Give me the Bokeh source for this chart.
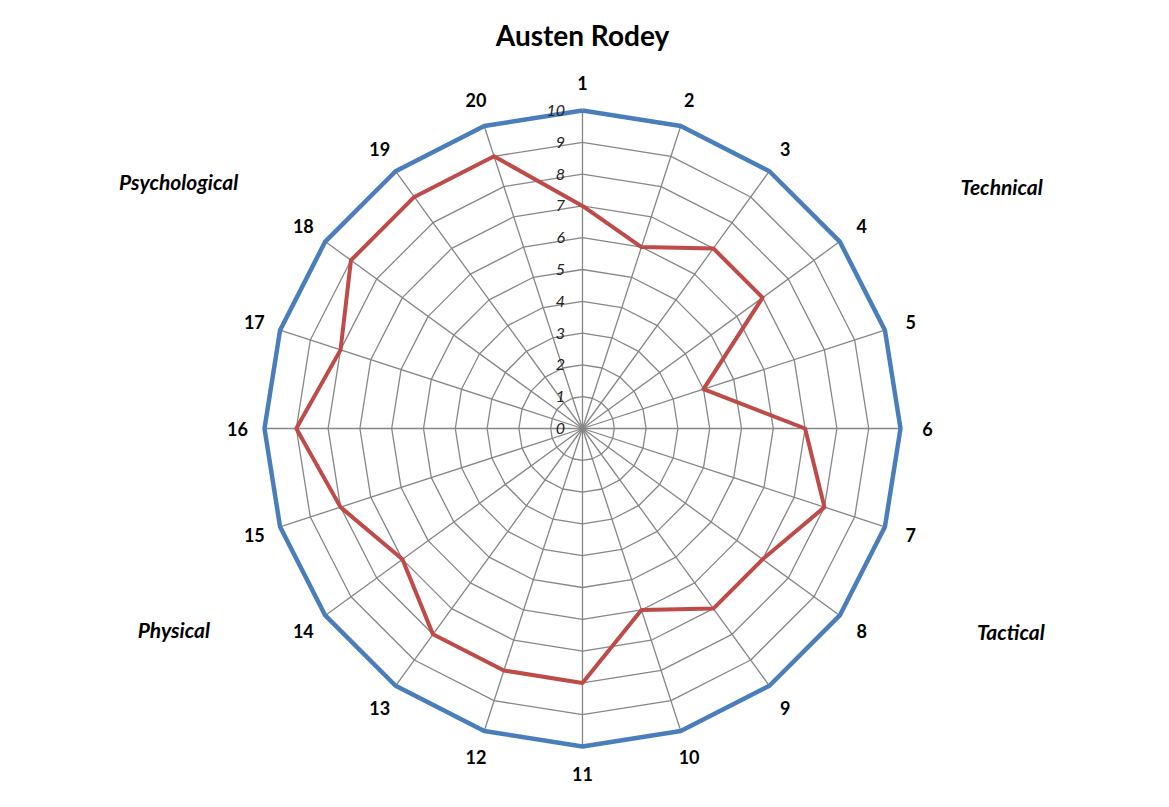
import numpy as np
from bokeh.plotting import figure
from bokeh.models import Range1d
from bokeh.core.properties import value
from bokeh.embed import file_html
from bokeh.resources import INLINE

title = "Austen Rodey"
categories = [str(i) for i in range(1, 21)]
scores = [7, 6, 7, 7, 4, 7, 8, 7, 7, 6, 8, 8, 8, 7, 8, 9, 8, 9, 9, 9]
maximum = [10] * 20
ring_levels = list(range(0, 11))
groups = ["Technical", "Tactical", "Physical", "Psychological"]
group_pos = [(13.18, 7.62), (13.47, -6.39), (-12.85, -6.32), (-12.7, 7.78)]

W, H = 1153, 791
cx, cy = 582, 428
px_per_unit = 31.8

p = figure(width=W, height=H, output_backend="svg", toolbar_location=None,
           x_range=Range1d(-cx / px_per_unit, (W - cx) / px_per_unit),
           y_range=Range1d(-(H - cy) / px_per_unit, cy / px_per_unit),
           min_border=0)
p.axis.visible = False
p.grid.visible = False
p.outline_line_color = None
p.background_fill_color = "white"
p.border_fill_color = "white"

n = len(categories)
ang = np.pi / 2 - np.arange(n) * 2 * np.pi / n

# rings
for lv in ring_levels[1:]:
    xs = list(lv * np.cos(ang)) + [lv * np.cos(ang[0])]
    ys = list(lv * np.sin(ang)) + [lv * np.sin(ang[0])]
    p.line(xs, ys, line_color="#868686", line_width=1.3)
# spokes
p.segment(x0=[0] * n, y0=[0] * n, x1=list(10 * np.cos(ang)), y1=list(10 * np.sin(ang)),
          line_color="#868686", line_width=1.3)

def closed(vals):
    v = np.array(vals, dtype=float)
    xs = list(v * np.cos(ang)) + [v[0] * np.cos(ang[0])]
    ys = list(v * np.sin(ang)) + [v[0] * np.sin(ang[0])]
    return xs, ys

bx, by = closed(maximum)
p.line(bx, by, line_color="#4A7EBB", line_width=4.5, line_join="round")
rx, ry = closed(scores)
p.line(rx, ry, line_color="#BE4B48", line_width=4, line_join="round")

# ring value labels
p.text(x=[-0.55] * len(ring_levels), y=ring_levels, text=[str(v) for v in ring_levels],
       text_align="right", text_baseline="middle", text_font=value("Lato"),
       text_font_style="italic", text_font_size="16px", text_color="#222222")

# category labels
lr = 10.85
p.text(x=list(lr * np.cos(ang)), y=list(lr * np.sin(ang)), text=categories,
       text_align="center", text_baseline="middle", text_font=value("Lato"),
       text_font_style="bold", text_font_size="18px", text_color="black")

# group labels
p.text(x=[g[0] for g in group_pos], y=[g[1] for g in group_pos], text=groups,
       text_align="center", text_baseline="middle", text_font=value("Lato"),
       text_font_style="bold italic", text_font_size="21px", text_color="black")

# title
p.text(x=[0], y=[(cy - 34) / px_per_unit], text=[title], text_align="center",
       text_baseline="middle", text_font=value("Lato"), text_font_style="bold",
       text_font_size="28px", text_color="black")

open("out.html", "w").write(file_html(p, INLINE))
